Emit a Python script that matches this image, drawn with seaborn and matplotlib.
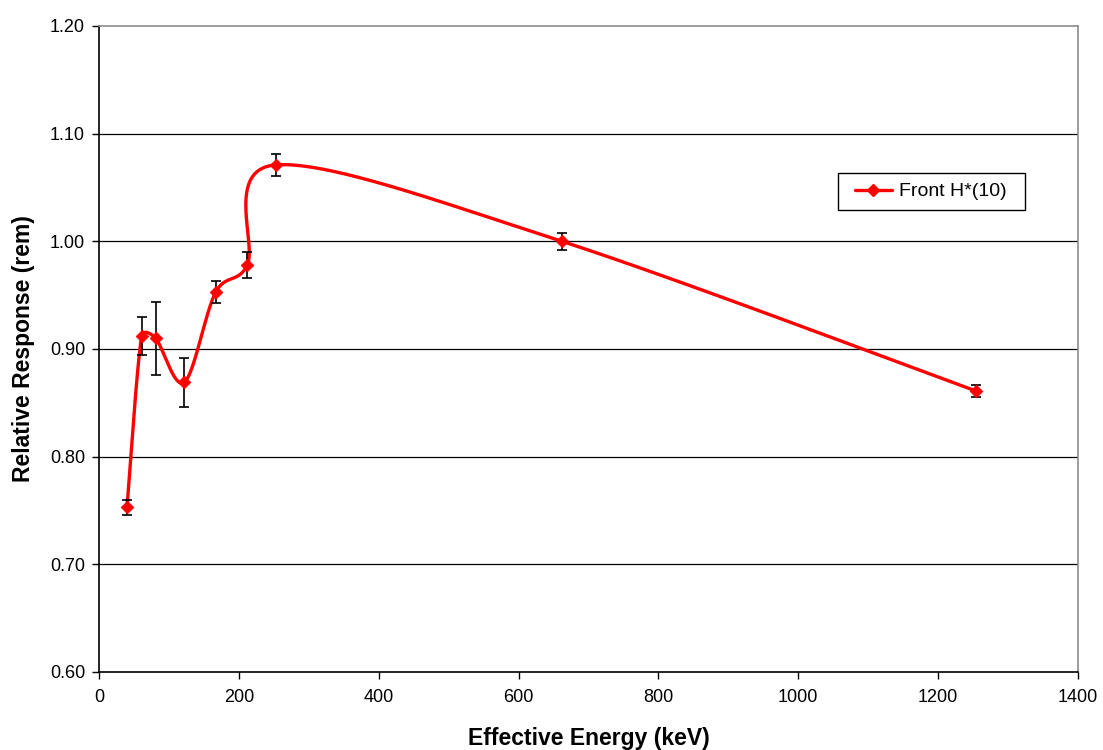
import numpy as np
import matplotlib
matplotlib.use("Agg")
import matplotlib.pyplot as plt
import seaborn as sns
import pandas as pd
from matplotlib.lines import Line2D
from matplotlib.patches import Rectangle

energy = [40, 61, 81, 122, 167, 212, 253, 662, 1254]
response = [0.753, 0.912, 0.910, 0.869, 0.953, 0.978, 1.071, 1.000, 0.861]
error = [0.007, 0.018, 0.034, 0.023, 0.010, 0.0125, 0.010, 0.008, 0.006]
series_name = "Front H*(10)"
x_ticks = [0, 200, 400, 600, 800, 1000, 1200, 1400]
y_ticks = [0.60, 0.70, 0.80, 0.90, 1.00, 1.10, 1.20]

sns.set_theme(style="white")
plt.rcParams['font.family'] = ['Liberation Sans', 'DejaVu Sans']
plt.rcParams['text.color'] = 'black'
plt.rcParams['axes.labelcolor'] = 'black'

W, H = 1103, 750
fig = plt.figure(figsize=(W / 100, H / 100), dpi=100)
ax = fig.add_axes([99 / W, 1 - 672 / H, (1078 - 99) / W, (672 - 26) / H])
ax.set_xlim(0, 1400)
ax.set_ylim(0.60, 1.20)
ax.set_xticks(x_ticks)
ax.set_yticks(y_ticks)
ax.set_xticklabels([str(v) for v in x_ticks], fontsize=13)
ax.set_yticklabels([f"{v:.2f}" for v in y_ticks], fontsize=13)
ax.tick_params(axis='both', direction='out', length=5, width=1, color='black',
               bottom=True, left=True, labelcolor='black')
ax.tick_params(axis='x', pad=7)
ax.tick_params(axis='y', pad=5)
for yv in y_ticks[1:-1]:
    ax.axhline(yv, color='black', lw=0.9, zorder=1)
ax.spines['left'].set_color('black')
ax.spines['bottom'].set_color('black')
ax.spines['top'].set_color('#8c8c8c')
ax.spines['right'].set_color('#8c8c8c')
for s in ax.spines.values():
    s.set_linewidth(1.2)

# Excel-style smoothed line: Bezier with 1/6 tangents, capped at half segment length
fig.canvas.draw()
pts = ax.transData.transform(np.column_stack([energy, response]))
n = len(pts)
curve = []
t = np.linspace(0, 1, 60)
for i in range(n - 1):
    p0 = pts[i - 1] if i > 0 else pts[i]
    p1 = pts[i]
    p2 = pts[i + 1]
    p3 = pts[i + 2] if i + 2 < n else pts[i + 1]
    d12 = np.linalg.norm(p2 - p1)
    v1 = (p2 - p0) / 6.0
    v2 = (p3 - p1) / 6.0
    l1 = np.linalg.norm(v1)
    l2 = np.linalg.norm(v2)
    if l1 > d12 / 2:
        v1 = v1 * (d12 / 2) / l1
    if l2 > d12 / 2:
        v2 = v2 * (d12 / 2) / l2
    c1 = p1 + v1
    c2 = p2 - v2
    seg = ((1 - t)[:, None] ** 3 * p1 + 3 * ((1 - t) ** 2 * t)[:, None] * c1
           + 3 * ((1 - t) * t ** 2)[:, None] * c2 + (t ** 3)[:, None] * p2)
    curve.append(seg if i == 0 else seg[1:])
curve = np.vstack(curve)
curve_data = ax.transData.inverted().transform(curve)
ax.plot(curve_data[:, 0], curve_data[:, 1], color='#ff0000', lw=2.4, zorder=3,
        solid_capstyle='round', solid_joinstyle='round')

ax.errorbar(energy, response, yerr=error, fmt='none', ecolor='black',
            elinewidth=1.2, capsize=3.8, capthick=1.2, zorder=4)
df = pd.DataFrame({"energy": energy, "response": response})
sns.scatterplot(data=df, x="energy", y="response", marker='D', s=42,
                color='#ff0000', edgecolor='#ff0000', zorder=5, ax=ax, legend=False)

# legend box (frame drawn separately to match the wide padding)
fig.add_artist(Rectangle((838 / W, 1 - 210 / H), (1025 - 838) / W, (210 - 173) / H,
                         transform=fig.transFigure, facecolor='white',
                         edgecolor='black', lw=1.0, zorder=6))
handle = Line2D([0], [0], color='#ff0000', lw=2.4, marker='D', markersize=6,
                markerfacecolor='#ff0000', markeredgecolor='#ff0000')
leg = fig.legend([handle], [series_name], loc='center left',
                 bbox_to_anchor=(855 / W, 1 - 191.5 / H),
                 fontsize=14, frameon=False,
                 handlelength=1.9, borderpad=0.0, handletextpad=0.35, borderaxespad=0)
leg.set_zorder(7)

ax.set_xlabel("Effective Energy (keV)", fontsize=16.5, fontweight='bold', labelpad=15)
ax.set_ylabel("Relative Response (rem)", fontsize=16.5, fontweight='bold', labelpad=11)

fig.savefig("out.png", dpi=100, facecolor='white')
